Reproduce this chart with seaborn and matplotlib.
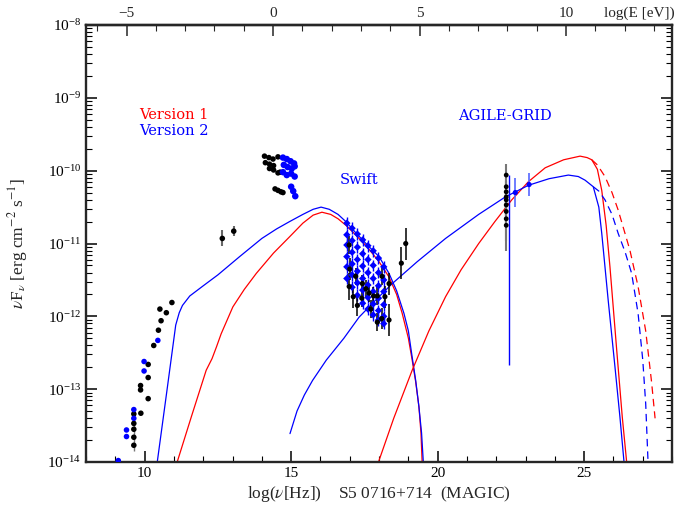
import numpy as np
import pandas as pd
import matplotlib
matplotlib.use("Agg")
import matplotlib.pyplot as plt
import seaborn as sns
from matplotlib.ticker import MultipleLocator, FixedLocator, LogLocator, NullFormatter

# everything below is log10(nu [Hz]) and log10(nuFnu [erg cm-2 s-1])

# synchrotron bump, version 1 (red) and version 2 (blue)
syn_v1_x = [11.11, 11.6, 12.10, 12.30, 12.45, 12.61, 13.01, 13.4, 13.81, 14.4, 14.94, 15.4, 15.75,
            16.05, 16.35, 16.6, 16.87, 17.2, 17.6, 18.0, 18.34, 18.6, 18.79, 19.0, 19.13, 19.25,
            19.36, 19.43, 19.47]
syn_v1_y = [-14.0, -13.37, -12.74, -12.58, -12.42, -12.24, -11.87, -11.63, -11.41, -11.13, -10.91,
            -10.72, -10.61, -10.57, -10.60, -10.66, -10.75, -10.88, -11.05, -11.25, -11.46, -11.70,
            -11.96, -12.30, -12.60, -12.90, -13.24, -13.60, -14.0]
syn_v2_x = [10.43, 10.75, 11.06, 11.18, 11.29, 11.54, 12.0, 12.5, 13.24, 14.0, 14.5, 14.94, 15.4,
            15.75, 16.02, 16.3, 16.6, 16.87, 17.2, 17.6, 18.0, 18.34, 18.6, 18.85, 19.0, 19.13,
            19.25, 19.36, 19.45, 19.51]
syn_v2_y = [-14.0, -13.05, -12.12, -11.95, -11.85, -11.72, -11.58, -11.43, -11.18, -10.93, -10.80,
            -10.70, -10.60, -10.53, -10.50, -10.53, -10.60, -10.70, -10.85, -11.02, -11.18, -11.41,
            -11.65, -11.96, -12.20, -12.56, -12.88, -13.24, -13.60, -14.0]

# inverse Compton bump, solid and dashed (no EBL absorption)
ic_v1_x = [17.98, 18.5, 19.13, 19.7, 20.27, 20.8, 21.4, 21.95, 22.53, 23.1, 23.67, 24.3, 24.86,
           25.1, 25.26, 25.45, 25.6, 25.75, 25.88, 26.11, 26.3, 26.45]
ic_v1_y = [-14.0, -13.4, -12.74, -12.2, -11.73, -11.36, -11.0, -10.70, -10.40, -10.15, -9.96, -9.85,
           -9.80, -9.82, -9.85, -9.98, -10.27, -10.75, -11.32, -12.46, -13.38, -14.0]
ic_v1_dash_x = [25.26, 25.45, 25.71, 25.95, 26.16, 26.56, 26.84, 27.1, 27.3, 27.42]
ic_v1_dash_y = [-9.85, -9.92, -10.08, -10.30, -10.54, -11.09, -11.59, -12.2, -12.9, -13.4]
ic_v2_x = [14.96, 15.2, 15.45, 15.73, 16.2, 16.8, 17.32, 17.9, 18.45, 19.3, 20.27, 21.4, 22.31,
           23.1, 23.8, 24.46, 24.8, 25.03, 25.31, 25.5, 25.6, 25.82, 26.05, 26.22, 26.36]
ic_v2_y = [-13.61, -13.3, -13.08, -12.88, -12.6, -12.3, -12.01, -11.77, -11.55, -11.25, -10.93,
           -10.60, -10.36, -10.20, -10.11, -10.06, -10.08, -10.13, -10.22, -10.5, -10.86, -11.78,
           -12.69, -13.38, -14.0]
ic_v2_dash_x = [25.31, 25.5, 25.71, 25.95, 26.16, 26.4, 26.62, 26.84, 27.0, 27.1, 27.18]
ic_v2_dash_y = [-10.22, -10.28, -10.40, -10.60, -10.86, -11.12, -11.41, -11.96, -12.6, -13.2, -14.0]

# radio data
radio_k_x = [9.63, 9.63, 9.63, 9.63, 9.63, 9.87, 9.86, 9.86, 10.12, 10.12, 10.12, 10.31, 10.47,
             10.56, 10.52, 10.74, 10.93]
radio_k_y = [-13.34, -13.47, -13.55, -13.66, -13.77, -13.33, -12.95, -13.01, -13.13, -12.84, -12.66,
             -12.40, -12.19, -12.06, -11.90, -11.95, -11.81]
radio_b_x = [9.10, 9.38, 9.38, 9.63, 9.63, 9.98, 9.98, 10.45]
radio_b_y = [-13.98, -13.56, -13.65, -13.28, -13.40, -12.62, -12.75, -12.33]

# infrared points with errors
ir_x = [12.65, 13.04]
ir_y = [-10.93, -10.83]
ir_err = [0.11, 0.07]

# optical / UV
opt_k_x = [14.09, 14.24, 14.38, 14.55, 14.12, 14.26, 14.40, 14.26, 14.40, 14.55, 14.62,
           14.45, 14.55, 14.65, 14.72]
opt_k_y = [-9.80, -9.82, -9.84, -9.81, -9.89, -9.91, -9.93, -9.97, -9.99, -10.03, -10.02,
           -10.25, -10.27, -10.29, -10.30]
opt_b_x = [14.72, 14.85, 14.98, 15.10, 14.75, 14.88, 15.02, 15.12, 14.72, 14.85, 15.00, 15.12,
           15.00, 15.07, 15.14]
opt_b_y = [-9.82, -9.84, -9.87, -9.90, -9.92, -9.95, -9.97, -9.94, -10.02, -10.06, -10.04, -10.08,
           -10.22, -10.28, -10.35]

# Swift XRT spectra (blue) and older X-ray data (black)
swift_x = [16.90, 17.08, 17.26, 17.44, 17.62, 17.80, 17.98, 18.16]
swift_s1 = [-10.72, -10.79, -10.87, -10.95, -11.03, -11.10, -11.20, -11.32]
swift_s2 = [-10.88, -10.96, -11.05, -11.14, -11.22, -11.30, -11.40, -11.50]
swift_s3 = [-11.02, -11.12, -11.22, -11.31, -11.40, -11.48, -11.58, -11.66]
swift_s4 = [-11.18, -11.28, -11.38, -11.48, -11.57, -11.66, -11.75, -11.84]
swift_s5 = [-11.32, -11.43, -11.54, -11.64, -11.74, -11.83, -11.92, -12.00]
swift_s6 = [-11.48, -11.60, -11.71, -11.82, -11.90, -11.98, -12.05, -12.10]
xray_k_x = [16.98, 16.98, 17.00, 17.12, 17.20, 17.26, 17.41, 17.43, 17.55, 17.66, 17.72, 17.81,
            17.94, 17.94, 18.09, 18.10, 18.20, 18.34, 18.34, 18.76, 18.91]
xray_k_y = [-11.02, -11.59, -11.35, -11.73, -11.45, -11.85, -11.75, -11.55, -11.62, -11.68, -11.90,
            -11.72, -11.72, -12.08, -12.03, -11.45, -11.73, -11.55, -12.05, -11.27, -11.00]
xray_k_err = [0.12, 0.18, 0.15, 0.15, 0.12, 0.15, 0.12, 0.12, 0.12, 0.12, 0.12, 0.12,
              0.12, 0.12, 0.15, 0.12, 0.15, 0.15, 0.22, 0.22, 0.22]

# gamma rays: black column, AGILE-GRID blue points and blue limit
gam_k_x = [22.34] * 9
gam_k_y = [-10.06, -10.22, -10.29, -10.36, -10.40, -10.47, -10.56, -10.66, -10.75]
gam_k_err = [0.15, 0.15, 0.15, 0.15, 0.15, 0.15, 0.2, 0.3, 0.35]
agile_x = [22.65, 23.12]
agile_y = [-10.30, -10.19]
agile_err = [0.2, 0.16]
agile_ul_x = 22.42
agile_ul_y = [-10.06, -12.67]


def lin(v):
    return 10 ** np.asarray(v, dtype=float)


def ebars(ax, x, y, err, color, lw=1.0):
    y = np.asarray(y, dtype=float)
    err = np.asarray(err, dtype=float)
    ax.vlines(x, lin(y - err), lin(y + err), color=color, lw=lw, zorder=2)


sns.set_style("ticks")
plt.rcParams["font.family"] = ["Liberation Serif", "DejaVu Serif"]
plt.rcParams["mathtext.fontset"] = "stix"
plt.rcParams["axes.linewidth"] = 1.7

fig = plt.figure(figsize=(6.83, 5.09), dpi=100)
ax = fig.add_axes([0.126, 0.0923, 0.858, 0.8585])

# model curves
for xs, ys, col, ls in [(syn_v1_x, syn_v1_y, "red", "-"), (syn_v2_x, syn_v2_y, "blue", "-"),
                        (ic_v1_x, ic_v1_y, "red", "-"), (ic_v2_x, ic_v2_y, "blue", "-"),
                        (ic_v1_dash_x, ic_v1_dash_y, "red", (0, (6, 4))),
                        (ic_v2_dash_x, ic_v2_dash_y, "blue", (0, (6, 4)))]:
    df = pd.DataFrame({"x": xs, "y": lin(ys)})
    sns.lineplot(data=df, x="x", y="y", sort=False, estimator=None, color=col,
                 linewidth=0.9, linestyle=ls, ax=ax)

# error bars
ebars(ax, [9.63], [-13.55], [0.3], "#777777")
ebars(ax, ir_x, ir_y, ir_err, "#666666", 1.5)
for s in [swift_s1, swift_s2, swift_s3, swift_s4, swift_s5, swift_s6]:
    ebars(ax, swift_x, s, [0.08] * len(s), "blue", 1.0)
ebars(ax, xray_k_x, xray_k_y, xray_k_err, "black", 1.1)
ebars(ax, gam_k_x, gam_k_y, gam_k_err, "#777777", 1.5)
ebars(ax, agile_x, agile_y, agile_err, "#5566ff", 1.2)
ax.vlines(agile_ul_x, lin(agile_ul_y[1]), lin(agile_ul_y[0]), color="blue", lw=1.0)

# points
mk = dict(edgecolor="none", ax=ax, zorder=3, legend=False)
sns.scatterplot(x=radio_k_x, y=lin(radio_k_y), color="black", s=16, **mk)
sns.scatterplot(x=radio_b_x, y=lin(radio_b_y), color="blue", s=16, **mk)
sns.scatterplot(x=ir_x, y=lin(ir_y), color="black", s=16, **mk)
sns.scatterplot(x=opt_k_x, y=lin(opt_k_y), color="black", s=16, **mk)
sns.scatterplot(x=opt_b_x, y=lin(opt_b_y), color="blue", s=22, **mk)
for s in [swift_s1, swift_s2, swift_s3, swift_s4, swift_s5, swift_s6]:
    sns.scatterplot(x=swift_x, y=lin(s), color="blue", s=14, marker="D", **mk)
sns.scatterplot(x=xray_k_x, y=lin(xray_k_y), color="black", s=14, **mk)
sns.scatterplot(x=gam_k_x, y=lin(gam_k_y), color="black", s=12, **mk)
sns.scatterplot(x=agile_x, y=lin(agile_y), color="blue", s=14, **mk)

# axes
ax.set_xlim(8, 28)
ax.set_yscale("log")
ax.set_ylim(1e-14, 1e-8)
ax.xaxis.set_major_locator(FixedLocator([10, 15, 20, 25]))
ax.xaxis.set_minor_locator(MultipleLocator(1))
ax.yaxis.set_major_locator(LogLocator(base=10, numticks=10))
ax.yaxis.set_minor_locator(LogLocator(base=10, subs=np.arange(2, 10), numticks=100))
ax.yaxis.set_minor_formatter(NullFormatter())
ax.tick_params(which="both", direction="in", top=False, right=True, colors="black")
ax.tick_params(which="major", length=8, width=1.1, labelsize=11)
ax.tick_params(which="minor", length=4, width=0.8)

secax = ax.secondary_xaxis("top", functions=(lambda v: v - 14.383, lambda e: e + 14.383))
secax.xaxis.set_major_locator(FixedLocator([-5, 0, 5, 10]))
secax.xaxis.set_minor_locator(FixedLocator(list(range(-6, 14))))
secax.tick_params(which="both", direction="in")
secax.tick_params(which="major", length=8, width=1.1, labelsize=11)
secax.tick_params(which="minor", length=4, width=0.8)
fig.text(675 / 683, 1 - 13 / 509, "log(E [eV])", ha="right", va="center", fontsize=11)

ax.set_xlabel(r"log($\nu$[Hz])    S5 0716+714  (MAGIC)", fontsize=12.5, labelpad=3)
ax.set_ylabel(r"$\nu$F$_\nu$ [erg cm$^{-2}$ s$^{-1}$]", fontsize=12.5)
ax.yaxis.set_label_coords(-0.095, 0.5)

# annotations
tf = dict(fontfamily="DejaVu Serif", fontsize=10.5, va="center")
ax.text(9.80, 10 ** -9.236, "Version 1", color="red", **tf)
ax.text(9.80, 10 ** -9.456, "Version 2", color="blue", **tf)
ax.text(16.67, 10 ** -10.13, "Swift", color="blue", **tf)
ax.text(20.69, 10 ** -9.25, "AGILE-GRID", color="blue", **tf)

fig.savefig("out.png", dpi=100)
